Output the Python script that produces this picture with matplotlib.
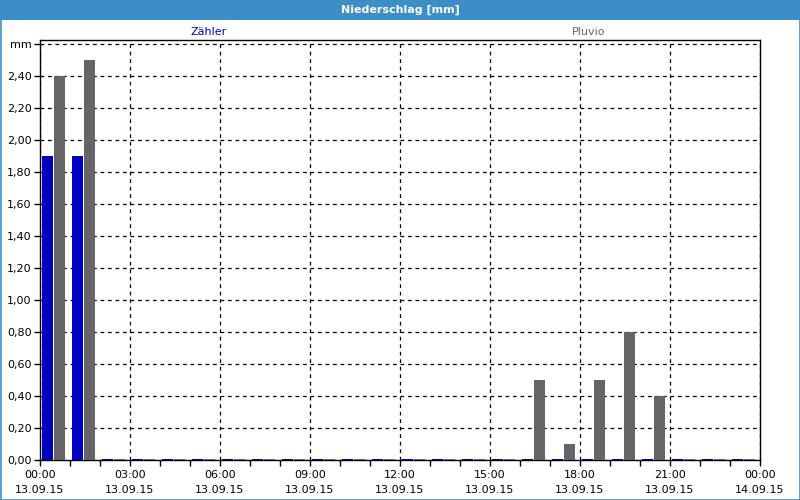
import numpy as np
import matplotlib
matplotlib.use("Agg")
import matplotlib.pyplot as plt
from matplotlib.patches import Rectangle

# hourly precipitation, 13.09.15
hours = np.arange(24)
zaehler = [1.9, 1.9] + [0.0] * 22
pluvio = [2.4, 2.5] + [0.0] * 14 + [0.5, 0.1, 0.5, 0.8, 0.4] + [0.0] * 3
tick_hours = [0, 3, 6, 9, 12, 15, 18, 21, 24]
tick_labels = ["00:00\n13.09.15", "03:00\n13.09.15", "06:00\n13.09.15",
               "09:00\n13.09.15", "12:00\n13.09.15", "15:00\n13.09.15",
               "18:00\n13.09.15", "21:00\n13.09.15", "00:00\n14.09.15"]
yticks = np.arange(0, 2.61, 0.2)

blue = "#0000C0"
grey = "#666466"
bar_blue = "#3C8FC6"

plt.rcParams['font.family'] = ['DejaVu Sans']
fig = plt.figure(figsize=(8, 5), dpi=100)
fig.patch.set_facecolor("white")

# title bar and frame
fig.patches.append(Rectangle((0, 480 / 500), 1, 20 / 500, transform=fig.transFigure,
                             facecolor=bar_blue, edgecolor="none", zorder=0))
fig.patches.append(Rectangle((0.5 / 800, 0.5 / 500), 799 / 800, 499 / 500, transform=fig.transFigure,
                             facecolor="none", edgecolor=bar_blue, lw=1.2, zorder=0))
fig.text(0.5, 490 / 500, "Niederschlag [mm]", color="white", fontsize=8, fontweight="bold",
         ha="center", va="center")
fig.text(209 / 800, 468 / 500, "Zähler", color=blue, fontsize=8, ha="center", va="center")
fig.text(589 / 800, 468 / 500, "Pluvio", color=grey, fontsize=8, ha="center", va="center")

ax = fig.add_axes([40 / 800, 40 / 500, 720 / 800, 420 / 500])

stub = 0.008
z = np.array(zaehler)
p = np.array(pluvio)
ax.bar(hours + 0.25, np.where(z > 0, z, stub), width=0.38, color=blue, zorder=3)
ax.bar(hours + 0.65, np.where(p > 0, p, stub), width=0.38, color=grey, zorder=3)

ax.set_xlim(0, 24)
ax.set_ylim(0, 2.625)
ax.set_xticks(tick_hours)
ax.set_xticklabels(tick_labels, fontsize=8, linespacing=1.6)
ax.set_xticks(np.arange(25), minor=True)
ax.set_yticks(yticks)
ylabels = [f"{v:.2f}".replace(".", ",") for v in yticks]
ylabels[-1] = "mm"
ax.set_yticklabels(ylabels, fontsize=8)

ax.tick_params(axis="both", which="both", direction="out", length=4, width=1, color="black")
ax.tick_params(axis="x", which="minor", length=4)
ax.tick_params(axis="x", pad=3)
ax.tick_params(axis="y", pad=2)
ax.grid(True, which="major", color="black", linestyle=(0, (3, 3)), linewidth=0.9, zorder=1)
ax.set_axisbelow(True)
for s in ax.spines.values():
    s.set_color("black")
    s.set_linewidth(1)

fig.savefig("out.png", dpi=100)
